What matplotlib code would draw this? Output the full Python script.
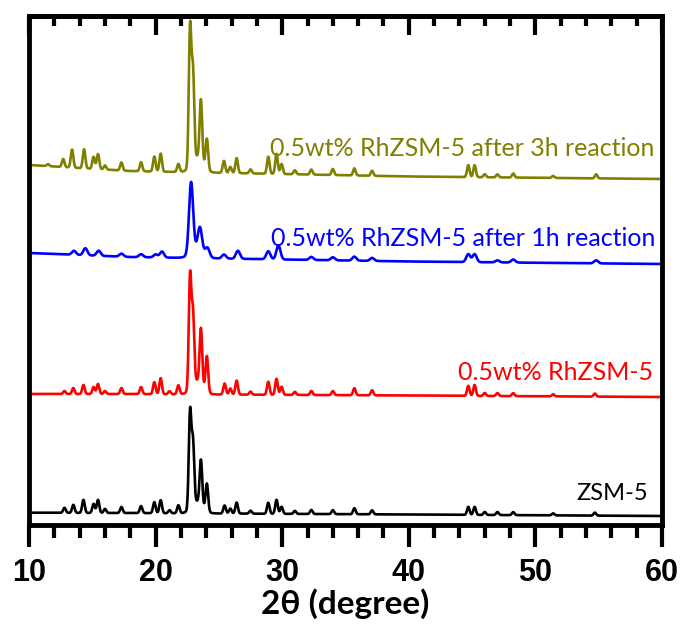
import numpy as np
import matplotlib
matplotlib.use("Agg")
import matplotlib.pyplot as plt

# ── data (2θ in degree, intensity in arbitrary units) ──
two_theta = np.linspace(10, 60, 2501)

# baseline anchors per sample
base_pos = [10, 18, 40, 60]
zsm_base = [12.3, 12.0, 10.5, 9.0]
rh_base = [131.0, 131.0, 129.5, 128.0]
rh1h_base = [272.0, 268.0, 263.5, 261.0]
rh3h_base = [360.0, 354.0, 348.5, 346.0]

# broad hump under the 23° cluster: position, height, sigma
zsm_hump = (23.3, 12, 0.45)
rh_hump = (23.3, 14, 0.45)
rh1h_hump = (23.3, 10, 0.5)
rh3h_hump = (23.3, 16, 0.45)

# peaks: position, height
zsm_pos = [12.8, 13.5, 14.3, 15.1, 15.45, 16.0, 17.3, 18.85, 19.9, 20.4, 21.1, 21.8,
           22.72, 22.95, 23.58, 24.05, 25.45, 25.9, 26.4, 27.5, 28.9, 29.55, 29.95,
           31.0, 32.3, 34.0, 35.7, 37.1, 44.7, 45.2, 46.0, 47.0, 48.25, 51.4, 54.7]
zsm_h = [5, 8, 13, 9, 13, 4, 6, 7, 11, 13, 3, 8,
         96, 62, 44, 27, 8, 5, 11, 3, 11, 14, 7,
         3, 4, 4, 6, 4, 8, 8, 3, 3, 3, 2, 3]

rh_pos = zsm_pos
rh_h = [3, 6, 9, 7, 10, 3, 6, 7, 12, 16, 3, 9,
        112, 70, 55, 35, 11, 6, 14, 3, 13, 16, 8,
        3, 4, 4, 7, 5, 10, 11, 3, 3, 3, 2, 3]

rh1h_pos = [13.55, 14.45, 15.5, 17.3, 18.85, 20.0, 20.5, 22.8, 23.5, 24.1, 25.4,
            26.5, 28.9, 29.7, 32.3, 34.0, 35.7, 37.1, 44.7, 45.2, 47.0, 48.25, 54.8]
rh1h_h = [4, 7, 5, 3, 3, 3, 6, 70, 22, 8, 4,
          8, 8, 14, 3, 3, 4, 3, 8, 8, 2, 3, 3]

rh3h_pos = [11.5, 12.7, 13.4, 14.35, 15.1, 15.45, 16.0, 17.3, 18.85, 19.9, 20.4, 21.8,
            22.72, 22.95, 23.58, 24.05, 25.4, 25.9, 26.4, 27.5, 28.9, 29.55, 29.95,
            31.0, 32.3, 34.0, 35.7, 37.1, 44.7, 45.2, 46.0, 47.0, 48.25, 51.4, 54.8]
rh3h_h = [2, 8, 18, 19, 12, 15, 4, 8, 9, 15, 18, 8,
          137, 88, 60, 30, 12, 6, 15, 4, 17, 20, 10,
          4, 5, 6, 7, 5, 12, 12, 3, 3, 4, 2, 4]

labels = ["ZSM-5", "0.5wt% RhZSM-5", "0.5wt% RhZSM-5 after 1h reaction",
          "0.5wt% RhZSM-5 after 3h reaction"]
label_y = [32, 153, 287, 377]
label_x = [58.9, 59.3, 59.5, 59.4]
colors = ["black", "#FF0000", "#0000FF", "#808000"]


def pattern(base, pos, h, sigma, hump):
    y = np.interp(two_theta, base_pos, base)
    for p, a in zip(pos, h):
        y = y + a * np.exp(-0.5 * ((two_theta - p) / sigma) ** 2)
    hp, ha, hs = hump
    return y + ha * np.exp(-0.5 * ((two_theta - hp) / hs) ** 2)


curves = [
    pattern(zsm_base, zsm_pos, zsm_h, 0.1, zsm_hump),
    pattern(rh_base, rh_pos, rh_h, 0.1, rh_hump),
    pattern(rh1h_base, rh1h_pos, rh1h_h, 0.16, rh1h_hump),
    pattern(rh3h_base, rh3h_pos, rh3h_h, 0.1, rh3h_hump),
]

fig = plt.figure(figsize=(6.86, 6.25), dpi=100)
ax = fig.add_axes([0.0423, 0.16, 0.9227, 0.8144])

for y, c in zip(curves, colors):
    ax.plot(two_theta, y, color=c, lw=1.9)

for lab, lx, ly, c in zip(labels, label_x, label_y, colors):
    ax.text(lx, ly, lab, color=c, ha="right", va="center",
            fontsize=18 if c != "black" else 17, family="Lato")

ax.set_xlim(10, 60)
ax.set_ylim(0, 509)
ax.set_yticks([])
ax.set_xticks(np.arange(10, 61, 10))
ax.set_xticks(np.arange(10, 61, 2), minor=True)
for sp in ax.spines.values():
    sp.set_linewidth(3.5)
ax.tick_params(axis="x", which="major", direction="out", length=16, width=3,
               pad=8, labelsize=22)
ax.tick_params(axis="x", which="minor", direction="out", length=9, width=3)
for t in ax.get_xticklabels():
    t.set_fontweight("bold")
    t.set_family("Liberation Sans")

top = ax.secondary_xaxis("top")
top.set_xticks(np.arange(10, 61, 10))
top.set_xticks(np.arange(10, 61, 2), minor=True)
top.tick_params(which="major", direction="in", length=14, width=3, labeltop=False)
top.tick_params(which="minor", direction="in", length=7, width=3)
top.spines["top"].set_linewidth(3.5)

ax.set_xlabel("2θ (degree)", fontsize=24, fontweight="bold", family="Lato",
              labelpad=0)

fig.savefig("out.png", dpi=100)
